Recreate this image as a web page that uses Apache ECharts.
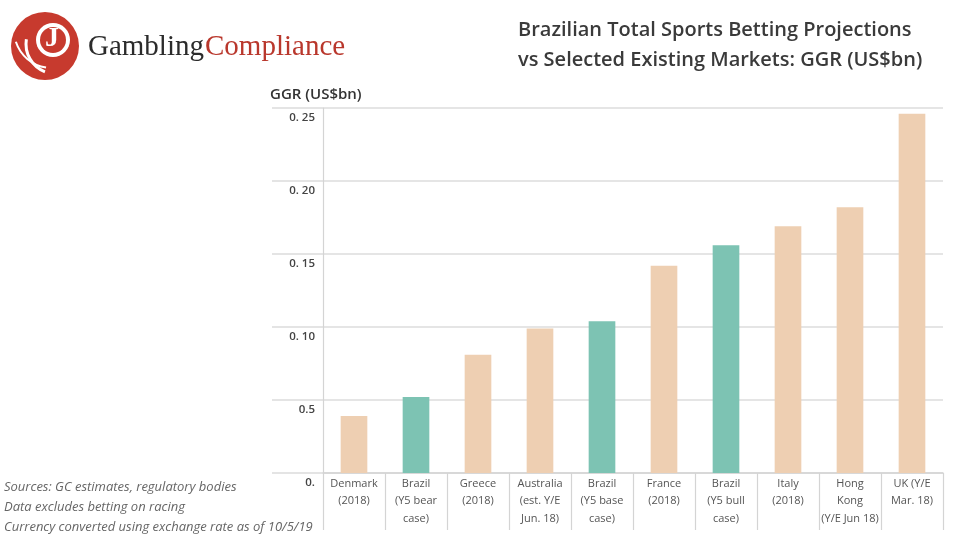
<!DOCTYPE html>
<html>
<head>
<meta charset="utf-8">
<script src="https://cdn.jsdelivr.net/npm/echarts@6/dist/echarts.min.js"></script>
<style>html,body{margin:0;padding:0;background:#fff}#c{width:960px;height:541px}</style>
</head>
<body>
<div id="c"></div>
<script>
var categories = ['Denmark\n(2018)', 'Brazil\n(Y5 bear\ncase)', 'Greece\n(2018)', 'Australia\n(est. Y/E\nJun. 18)', 'Brazil\n(Y5 base\ncase)', 'France\n(2018)', 'Brazil\n(Y5 bull\ncase)', 'Italy\n(2018)', 'Hong\nKong\n(Y/E Jun 18)', 'UK (Y/E\nMar. 18)'];
var ggr = [0.039, 0.052, 0.081, 0.099, 0.104, 0.142, 0.156, 0.169, 0.182, 0.246];
var yTickLabels = ['0.', '0.5', '0. 10', '0. 15', '0. 20', '0. 25'];
var titleLines = ['Brazilian Total Sports Betting Projections', 'vs Selected Existing Markets: GGR (US$bn)'];
var notes = ['Sources: GC estimates, regulatory bodies', 'Data excludes betting on racing', 'Currency converted using exchange rate as of 10/5/19'];

var PEACH = '#EECFB2', TEAL = '#7DC3B3';
var chart = echarts.init(document.getElementById('c'));
var font = '"Open Sans", "Noto Sans", sans-serif';

var graphics = [
  // logo
  {type:'circle', shape:{cx:45, cy:46, r:34}, style:{fill:'#C73A2E'}},
  {type:'circle', shape:{cx:53, cy:40, r:17}, style:{fill:'#fff'}},
  {type:'circle', shape:{cx:53, cy:40, r:13}, style:{fill:'#C73A2E'}},
  {type:'arc', shape:{cx:56, cy:44, r:30, startAngle:Math.PI*0.62, endAngle:Math.PI*1.05}, style:{stroke:'#fff', lineWidth:3, fill:null}},
  {type:'arc', shape:{cx:52, cy:30, r:38, startAngle:Math.PI*0.55, endAngle:Math.PI*0.9}, style:{stroke:'#fff', lineWidth:2, fill:null}},
  {type:'text', left:45, top:25, style:{text:'J', fill:'#fff', font:'bold 28px "Liberation Serif", "DejaVu Serif", serif'}},
  {type:'text', left:88, top:33, style:{text:'Gambling', fill:'#2b2b2b', font:'29px "Liberation Serif", "DejaVu Serif", serif'}},
  {type:'text', left:205, top:33, style:{text:'Compliance', fill:'#B9372C', font:'29px "Liberation Serif", "DejaVu Serif", serif'}},
  // axis name
  {type:'text', left:270, top:87, style:{text:'GGR (US$bn)', fill:'#333', font:'600 15px ' + font}}
];
titleLines.forEach(function(t, i){
  graphics.push({type:'text', left:518, top:20 + i*30, style:{text:t, fill:'#3a3a3a', font:'600 20px ' + font}});
});
notes.forEach(function(t, i){
  graphics.push({type:'text', left:4, top:481 + i*20, style:{text:t, fill:'#666', font:'italic 13px ' + font}});
});

chart.setOption({
  animation: false,
  grid: {left:323, right:17, top:108, bottom:68, containLabel:false},
  xAxis: {
    type:'category', data:categories, boundaryGap:true,
    axisLine:{show:true, lineStyle:{color:'#d4d4d4', width:1.5}},
    axisTick:{show:true, interval:0, length:57, lineStyle:{color:'#d4d4d4', width:1.2}},
    axisLabel:{interval:0, margin:2, color:'#555', fontSize:11, lineHeight:17.5, fontFamily:font}
  },
  yAxis: {
    type:'value', min:0, max:0.25, interval:0.05,
    axisLine:{show:true, lineStyle:{color:'#d4d4d4', width:1.2}},
    axisTick:{show:true, length:51, lineStyle:{color:'#dcdcdc', width:1.5}},
    splitLine:{show:true, lineStyle:{color:'#dcdcdc', width:1.5}},
    axisLabel:{margin:8, color:'#444', fontSize:11.5, fontWeight:600, fontFamily:font, verticalAlign:'top', padding:[4,0,0,0],
      formatter:function(v){ return yTickLabels[Math.round(v/0.05)]; }}
  },
  series: [{
    type:'bar', barWidth:'43%',
    data: ggr.map(function(v, i){
      return {value:v, itemStyle:{color: categories[i].indexOf('Brazil') === 0 ? TEAL : PEACH}};
    })
  }],
  graphic: graphics
});
</script>
</body>
</html>
